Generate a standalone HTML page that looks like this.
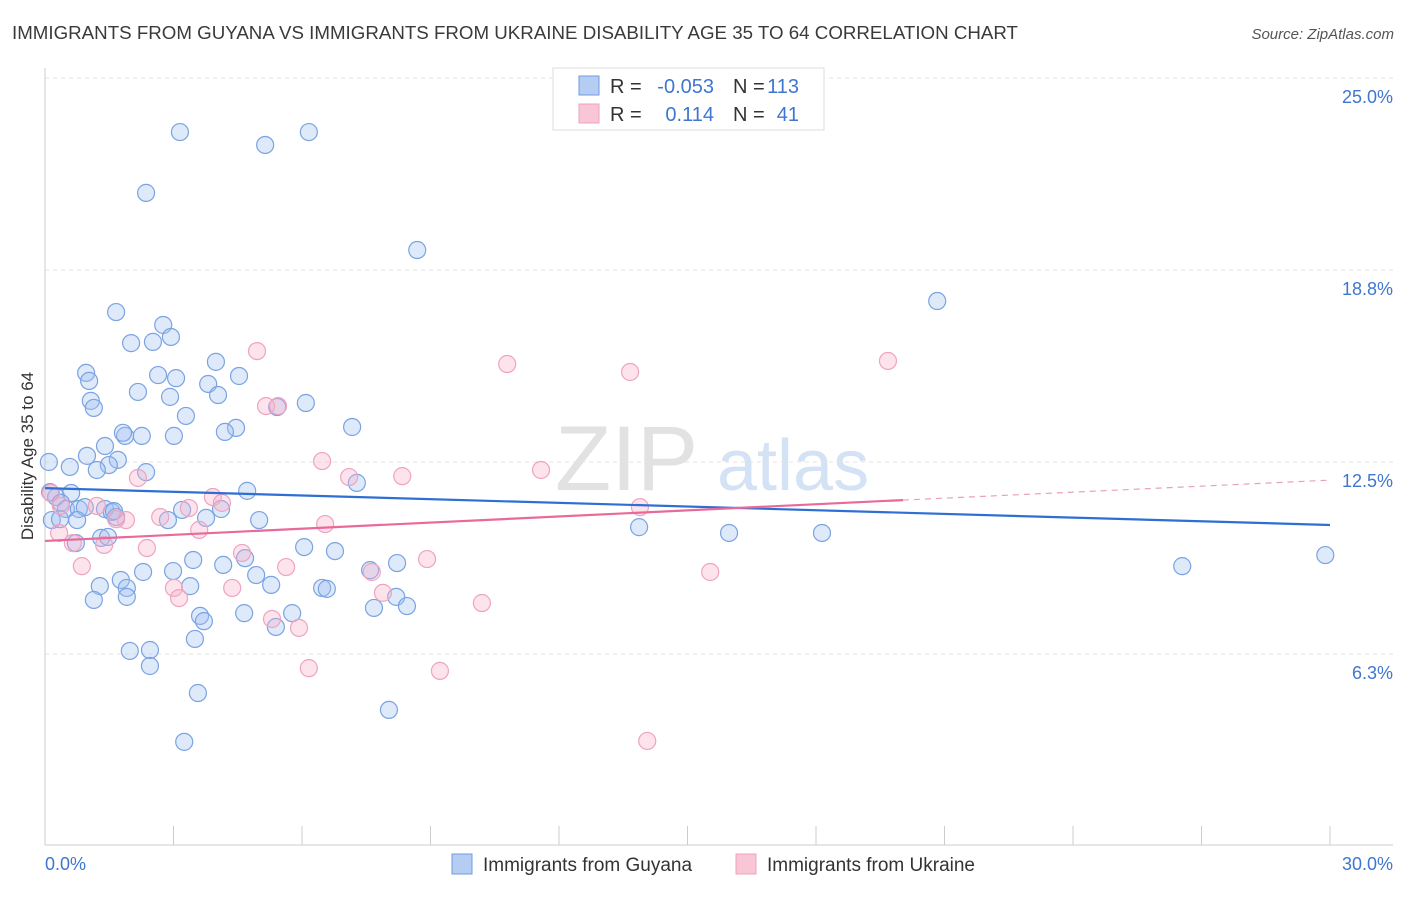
<!DOCTYPE html>
<html><head><meta charset="utf-8"><style>
body{margin:0;background:#fff;font-family:"Liberation Sans",sans-serif}
svg text{font-family:"Liberation Sans",sans-serif}
</style></head><body>
<svg id="chart" width="1406" height="892" xmlns="http://www.w3.org/2000/svg">
<text x="12" y="39" font-size="18.6" fill="#3a3a3a" textLength="1006" lengthAdjust="spacingAndGlyphs">IMMIGRANTS FROM GUYANA VS IMMIGRANTS FROM UKRAINE DISABILITY AGE 35 TO 64 CORRELATION CHART</text>
<text x="1394" y="39" font-size="15" fill="#555" font-style="italic" text-anchor="end">Source: ZipAtlas.com</text>
<g>
<text x="555" y="490" font-size="92" fill="#e2e2e2" font-family="Liberation Serif, serif">ZIP</text>
<text x="717" y="490" font-size="72" fill="#d4e2f5">atlas</text>
</g>
<g id="grid"></g>
<g id="axes"></g>
<g id="marks"></g>
<text transform="translate(33,456) rotate(-90)" font-size="17" fill="#333" text-anchor="middle">Disability Age 35 to 64</text>
<g>
<rect x="553" y="68" width="271" height="62" fill="#fff" stroke="#ddd"/>
<rect x="579" y="76" width="20" height="19" fill="#b5cdf3" stroke="#6f9be0"/>
<rect x="579" y="104" width="20" height="19" fill="#f9c6d6" stroke="#f0a0bd"/>
<text x="610" y="93" font-size="20" fill="#333">R =</text>
<text x="714" y="93" font-size="20" fill="#3f76d0" text-anchor="end">-0.053</text>
<text x="733" y="93" font-size="20" fill="#333">N =</text>
<text x="799" y="93" font-size="20" fill="#3f76d0" text-anchor="end">113</text>
<text x="610" y="121" font-size="20" fill="#333">R =</text>
<text x="714" y="121" font-size="20" fill="#3f76d0" text-anchor="end">0.114</text>
<text x="733" y="121" font-size="20" fill="#333">N =</text>
<text x="799" y="121" font-size="20" fill="#3f76d0" text-anchor="end">41</text>
</g>
<g>
<rect x="452" y="854" width="20" height="20" fill="#b5cdf3" stroke="#6f9be0"/>
<text x="483" y="871" font-size="19" fill="#333">Immigrants from Guyana</text>
<rect x="736" y="854" width="20" height="20" fill="#f9c6d6" stroke="#f0a0bd"/>
<text x="767" y="871" font-size="19" fill="#333">Immigrants from Ukraine</text>
</g>
</svg>
<script>
const yTicks=[6.25,12.5,18.75,25];
const yTickLabels=["6.3%","12.5%","18.8%","25.0%"];
const guyanaX=[3.15,5.14,6.16,2.36,8.69,20.83,1.66,2.76,2.94,2.01,2.52,3.99,0.96,2.64,1.03,3.06,4.53,3.81,2.17,2.92,4.04,1.07,1.14,5.42,6.09,3.29,7.17,4.46,4.20,1.87,2.26,3.01,1.82,1.40,0.98,1.70,0.09,1.49,0.58,1.21,2.36,0.12,4.72,7.28,0.26,0.61,0.37,0.49,0.79,0.93,0.16,0.35,0.75,1.40,1.56,1.66,1.61,3.20,3.76,4.11,5.00,2.87,13.87,15.97,18.14,1.31,1.47,0.72,6.05,6.77,4.67,3.46,4.16,2.29,2.99,7.59,8.22,1.77,1.28,1.91,3.39,4.93,5.28,6.47,6.58,1.91,1.14,8.20,8.45,7.68,4.65,3.62,3.71,5.77,5.39,3.50,2.45,1.98,2.45,3.57,8.03,3.25,26.55,29.89];
const guyanaY=[23.24,22.82,23.24,21.26,19.40,17.74,17.38,16.96,16.57,16.37,16.41,15.76,15.40,15.33,15.14,15.23,15.30,15.04,14.78,14.62,14.68,14.49,14.26,14.29,14.42,14.00,13.64,13.61,13.48,13.35,13.35,13.35,13.45,13.02,12.70,12.57,12.50,12.40,12.34,12.24,12.17,11.52,11.56,11.82,11.36,11.49,11.17,10.97,10.97,11.03,10.61,10.64,10.61,10.97,10.87,10.71,10.90,10.94,10.68,10.97,10.61,10.61,10.38,10.19,10.19,10.03,10.06,9.86,9.73,9.60,9.37,9.31,9.15,8.92,8.95,8.98,9.21,8.66,8.46,8.40,8.46,8.82,8.50,8.40,8.37,8.11,8.01,8.11,7.81,7.75,7.58,7.49,7.32,7.58,7.13,6.74,6.38,6.35,5.86,4.98,4.43,3.39,9.11,9.47];
const ukraineX=[0.14,0.37,4.95,10.79,13.66,19.68,5.16,5.44,6.47,11.58,7.10,8.34,2.17,3.92,4.13,1.21,2.69,3.36,1.89,1.66,6.54,13.89,0.33,1.38,0.65,2.38,4.60,3.60,8.92,0.86,5.63,7.63,3.01,4.37,7.89,3.13,10.20,5.30,5.93,15.53,6.16,9.22,14.06];
const ukraineY=[11.49,11.07,16.11,15.69,15.43,15.79,14.32,14.32,12.53,12.24,12.01,12.04,11.98,11.36,11.17,11.07,10.71,11.00,10.61,10.64,10.48,11.03,10.19,9.80,9.86,9.70,9.54,10.29,9.34,9.11,9.08,8.92,8.40,8.40,8.24,8.07,7.91,7.39,7.10,8.92,5.79,5.70,3.42];
const guyanaTrend=[[0,11.65],[30,10.45]];
const ukraineTrend=[[0,9.93],[20.03,11.26]];
const ukraineTrendExt=[[20.03,11.26],[30,11.91]];

const NS="http://www.w3.org/2000/svg";
const X=v=>45+v*(1285/30);
const Y=v=>78+(25-v)*30.72;
function mk(parent,tag,attrs){const e=document.createElementNS(NS,tag);for(const k in attrs)e.setAttribute(k,attrs[k]);document.getElementById(parent).appendChild(e);return e;}
yTicks.forEach((t,i)=>{
 const l=mk('grid','line',{x1:45,x2:1393,y1:Y(t),y2:Y(t),stroke:'#e3e3e3','stroke-dasharray':'4,4'});
 
 
 const tx=mk('axes','text',{x:1393,y:Y(t)+25,'font-size':18,fill:'#3f76d0','text-anchor':'end'});
 tx.textContent=yTickLabels[i];
 
 
});
let a=mk('axes','line',{x1:45,x2:45,y1:68,y2:845,stroke:'#ccc'});


a=mk('axes','line',{x1:45,x2:1393,y1:845,y2:845,stroke:'#ccc'});


for(let i=0;i<=10;i++){
 const t=mk('axes','line',{x1:X(i*3),x2:X(i*3),y1:826,y2:845,stroke:'#ccc'});
 
 
}
let xl=mk('axes','text',{x:45,y:870,'font-size':18,fill:'#3f76d0'});xl.textContent='0.0%';


xl=mk('axes','text',{x:1393,y:870,'font-size':18,fill:'#3f76d0','text-anchor':'end'});xl.textContent='30.0%';



guyanaX.forEach((v,i)=>{
 const c=mk('marks','circle',{cx:X(v),cy:Y(guyanaY[i]),r:8.5,fill:'rgba(160,192,240,0.35)',stroke:'#7aa3e3','stroke-width':1.2});
 
 
});
ukraineX.forEach((v,i)=>{
 const c=mk('marks','circle',{cx:X(v),cy:Y(ukraineY[i]),r:8.5,fill:'rgba(246,176,200,0.35)',stroke:'#f0a3bf','stroke-width':1.2});
 
 
});
let tl=mk('marks','line',{x1:X(guyanaTrend[0][0]),y1:Y(guyanaTrend[0][1]),x2:X(guyanaTrend[1][0]),y2:Y(guyanaTrend[1][1]),stroke:'#2e6fd4','stroke-width':2.2});


tl=mk('marks','line',{x1:X(ukraineTrend[0][0]),y1:Y(ukraineTrend[0][1]),x2:X(ukraineTrend[1][0]),y2:Y(ukraineTrend[1][1]),stroke:'#e8699a','stroke-width':2.2});


tl=mk('marks','line',{x1:X(ukraineTrendExt[0][0]),y1:Y(ukraineTrendExt[0][1]),x2:X(ukraineTrendExt[1][0]),y2:Y(ukraineTrendExt[1][1]),stroke:'#e8a0bb','stroke-width':1.2,'stroke-dasharray':'6,5'});


</script>
</body></html>
